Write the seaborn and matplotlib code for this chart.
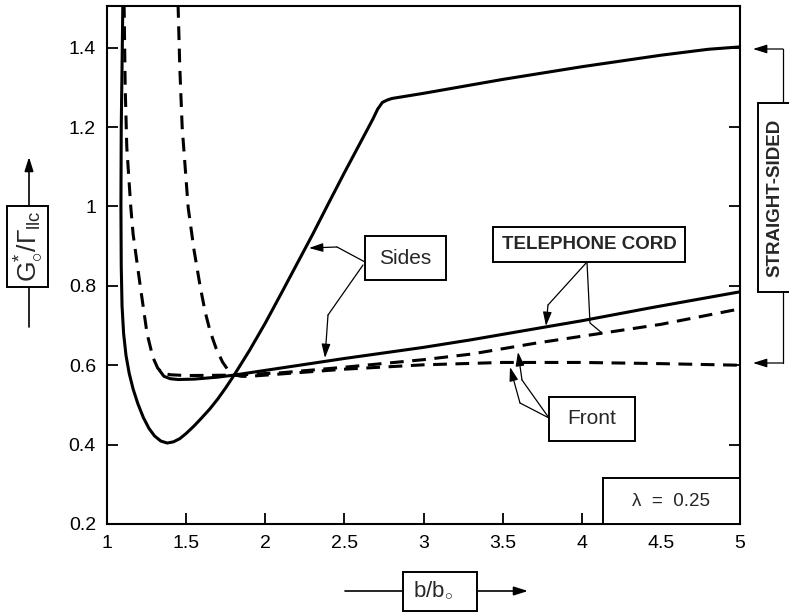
import numpy as np
import pandas as pd
import matplotlib
matplotlib.use("Agg")
import matplotlib.pyplot as plt
import seaborn as sns
from matplotlib.patches import Rectangle, FancyArrowPatch
from matplotlib.lines import Line2D

# ---------------- data ----------------
sides_x = [1.100, 1.095, 1.090, 1.088, 1.090, 1.095, 1.105, 1.120, 1.140, 1.165, 1.195, 1.230,
           1.265, 1.300, 1.340, 1.380, 1.420, 1.460, 1.500, 1.550, 1.600, 1.650, 1.700, 1.750,
           1.800, 1.900, 2.000, 2.100, 2.200, 2.300, 2.400, 2.500, 2.600, 2.680, 2.710, 2.740,
           2.770, 2.800, 3.000, 3.500, 4.000, 4.500, 4.800, 5.000]
sides_y = [1.510, 1.350, 1.200, 1.000, 0.850, 0.750, 0.680, 0.625, 0.580, 0.540, 0.503, 0.468,
           0.441, 0.422, 0.409, 0.404, 0.407, 0.415, 0.428, 0.447, 0.468, 0.490, 0.515, 0.543,
           0.573, 0.637, 0.706, 0.780, 0.855, 0.930, 1.008, 1.085, 1.160, 1.220, 1.245, 1.262,
           1.268, 1.272, 1.285, 1.320, 1.352, 1.381, 1.396, 1.402]

cord_solid_x = [1.330, 1.360, 1.400, 1.450, 1.550, 1.700, 1.800, 2.000, 2.200, 2.500, 3.000,
                3.300, 3.780, 4.000, 4.440, 5.000]
cord_solid_y = [0.588, 0.572, 0.566, 0.564, 0.565, 0.570, 0.575, 0.587, 0.599, 0.617, 0.645,
                0.664, 0.697, 0.712, 0.745, 0.785]

cord_dash_x = [1.108, 1.115, 1.125, 1.150, 1.165, 1.210, 1.253, 1.290, 1.320, 1.350, 1.400,
               1.500, 1.800, 2.100, 2.500, 3.000, 3.300, 3.700, 4.100, 4.500, 5.000]
cord_dash_y = [1.510, 1.300, 1.150, 1.000, 0.930, 0.800, 0.680, 0.620, 0.593, 0.580, 0.576,
               0.574, 0.575, 0.581, 0.595, 0.614, 0.628, 0.655, 0.679, 0.703, 0.742]

front_x = [1.449, 1.460, 1.475, 1.513, 1.550, 1.589, 1.620, 1.652, 1.690, 1.730, 1.770, 1.800,
           1.850, 1.900, 2.100, 2.500, 3.000, 3.500, 4.000, 4.500, 5.000]
front_y = [1.510, 1.350, 1.200, 0.997, 0.890, 0.798, 0.735, 0.685, 0.642, 0.608, 0.585, 0.576,
           0.572, 0.572, 0.578, 0.590, 0.601, 0.607, 0.607, 0.604, 0.600]

x_ticks = [1, 1.5, 2, 2.5, 3, 3.5, 4, 4.5, 5]
x_tick_labels = ["1", "1.5", "2", "2.5", "3", "3.5", "4", "4.5", "5"]
y_ticks = [0.2, 0.4, 0.6, 0.8, 1.0, 1.2, 1.4]
y_tick_labels = ["0.2", "0.4", "0.6", "0.8", "1", "1.2", "1.4"]

# ---------------- style ----------------
sns.set_style("ticks")
plt.rcParams["font.family"] = ["Liberation Sans", "DejaVu Sans"]
plt.rcParams["mathtext.fontset"] = "custom"
plt.rcParams["mathtext.rm"] = "Liberation Sans"
plt.rcParams["mathtext.it"] = "Liberation Sans:italic"
plt.rcParams["mathtext.bf"] = "Liberation Sans:bold"

W, H = 789, 612
fig = plt.figure(figsize=(W / 100, H / 100), dpi=100)
ax = fig.add_axes([107 / W, 1 - 524 / H, (740 - 107) / W, (524 - 6) / H])

LW = 2.2
DASH = (0, (4.5, 2.8))

for xs, ys, ls in [(sides_x, sides_y, "-"), (cord_solid_x, cord_solid_y, "-"),
                   (cord_dash_x, cord_dash_y, DASH), (front_x, front_y, DASH)]:
    df = pd.DataFrame({"x": xs, "y": ys})
    sns.lineplot(data=df, x="x", y="y", sort=False, estimator=None, color="black",
                 lw=LW, ax=ax)
    ax.lines[-1].set_linestyle(ls)
    ax.lines[-1].set_solid_capstyle("butt")
    ax.lines[-1].set_dash_capstyle("butt")
    ax.lines[-1].set_solid_joinstyle("round")

ax.set_xlim(1, 5)
ax.set_ylim(0.2, 1.505)
ax.set_xticks(x_ticks)
ax.set_xticklabels(x_tick_labels)
ax.set_yticks(y_ticks)
ax.set_yticklabels(y_tick_labels)
ax.set_xlabel("")
ax.set_ylabel("")
ax.tick_params(direction="in", length=8, width=1.3, labelsize=14, pad=8,
               right=True, top=False, colors="black")
for s in ax.spines.values():
    s.set_linewidth(1.5)
    s.set_color("black")
    s.set_visible(True)

# ---------------- annotation helpers (pixel coords, top-left origin) ----------------
def fx(px):
    return px / W

def fy(py):
    return 1 - py / H

def pbox(x0, y0, x1, y1, lw=1.4):
    r = Rectangle((fx(x0), fy(y1)), (x1 - x0) / W, (y1 - y0) / H, transform=fig.transFigure,
                  fill=True, facecolor="white", edgecolor="black", lw=lw, clip_on=False,
                  zorder=5)
    fig.add_artist(r)

def ptext(x, y, s, **kw):
    fig.text(fx(x), fy(y), s, ha="center", va="center", zorder=6, **kw)

def leader(pts, arrow=True, lw=0.9):
    xs = [fx(p[0]) for p in pts]
    ys = [fy(p[1]) for p in pts]
    if arrow:
        if len(pts) > 2:
            fig.add_artist(Line2D(xs[:-1], ys[:-1], transform=fig.transFigure, color="black",
                                  lw=lw, zorder=5))
        a = FancyArrowPatch((xs[-2], ys[-2]), (xs[-1], ys[-1]), transform=fig.transFigure,
                            arrowstyle="-|>,head_length=0.7,head_width=0.22",
                            mutation_scale=12, color="black", lw=lw, shrinkA=0, shrinkB=0,
                            zorder=5)
        fig.add_artist(a)
    else:
        fig.add_artist(Line2D(xs, ys, transform=fig.transFigure, color="black", lw=lw,
                              zorder=5))

# Sides
leader([(365, 262), (337, 247), (309, 248)])
leader([(363, 265), (328, 315), (325, 358)])
pbox(365, 236, 446, 280)
ptext(405.5, 258, "Sides", fontsize=15)

# Telephone cord
leader([(587, 262), (548, 305), (546, 326)])
leader([(587, 262), (590, 323), (602, 333)], arrow=False)
pbox(493, 227, 685, 262)
ptext(589, 244.5, "TELEPHONE CORD", fontsize=13.5, fontweight="bold")

# Front
leader([(549, 418), (520, 403), (510, 367)])
leader([(549, 418), (522, 380), (518, 352)])
pbox(549, 397, 635, 441)
ptext(592, 419, "Front", fontsize=15)

# lambda box
pbox(603, 478, 740, 524)
ptext(671, 501, "\u03bb  =  0.25", fontsize=13.5)

# Straight-sided
leader([(783, 103), (783, 49), (753, 49)])
leader([(783, 292), (783, 363), (753, 363)])
pbox(758, 103, 792, 292)
ptext(775, 197.5, "STRAIGHT-SIDED", fontsize=13.5, fontweight="bold", rotation=90)

# y label
leader([(29, 206), (29, 157)], lw=1.2)
leader([(29, 287), (29, 327)], arrow=False, lw=1.2)
pbox(7, 206, 48, 287)
ptext(28, 246.5, r"$\mathrm{G}^{*}_{\circ}/\Gamma_{\mathrm{llc}}$", fontsize=19, rotation=90)

# x label
leader([(345, 591), (403, 591)], arrow=False, lw=1.2)
leader([(477, 591), (528, 591)], lw=1.2)
pbox(403, 572, 477, 611)
ptext(433, 591, r"b/b$_{\circ}$", fontsize=16)

fig.savefig("out.png", dpi=100)
